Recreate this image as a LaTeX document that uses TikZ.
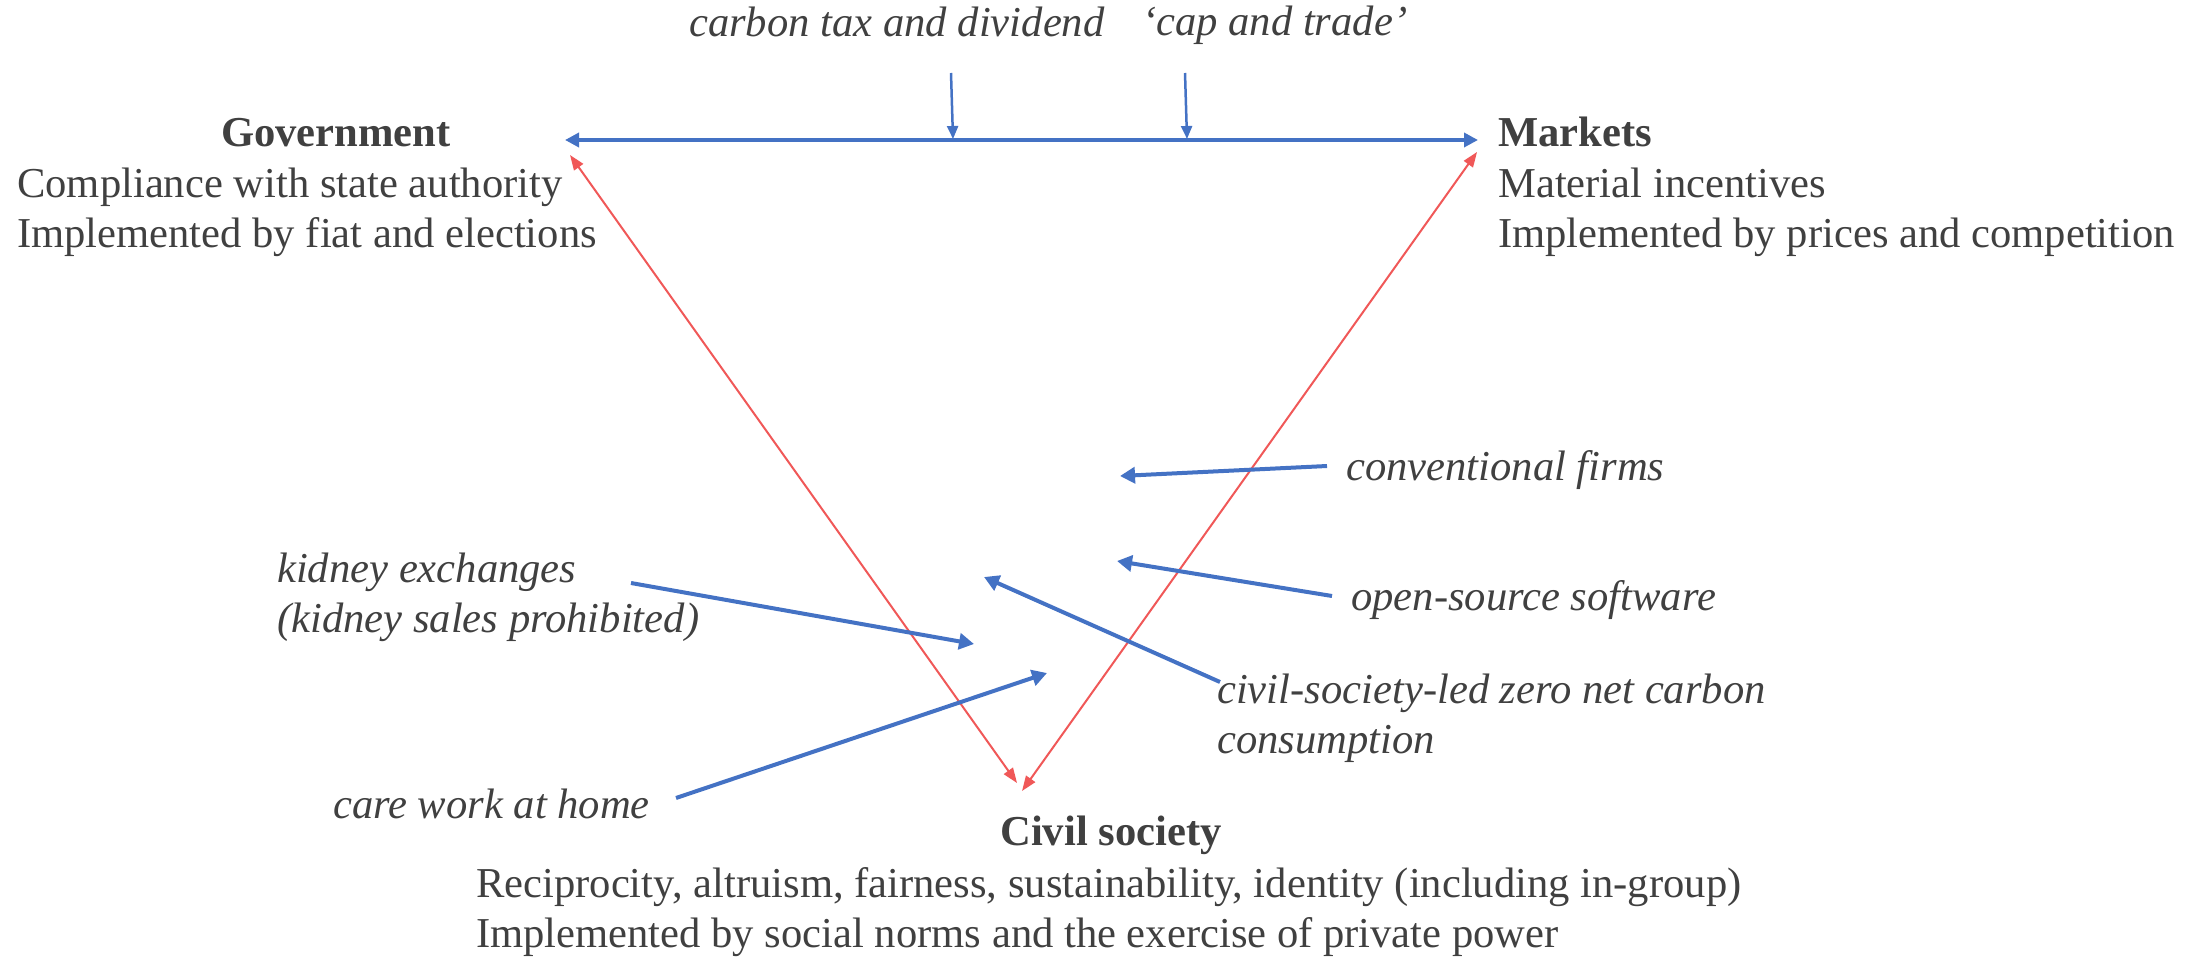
\documentclass[tikz,border=0pt]{standalone}
\usepackage{fontspec}
\setmainfont{Liberation Serif}
\usetikzlibrary{arrows.meta}
\definecolor{txtgray}{RGB}{64,64,64}
\definecolor{linkblue}{RGB}{68,114,196}
\definecolor{linkred}{RGB}{240,88,88}

\begin{document}
\begin{tikzpicture}[x=1pt,y=-1pt]
    \tikzstyle{every node}=[inner sep=0pt,text=txtgray,font=\fontsize{42.6pt}{50pt}\selectfont]
    \tikzstyle{pole}=[font=\fontsize{42.6pt}{50pt}\selectfont\bfseries]
    \tikzstyle{desc}=[align=left,anchor=base west]
    \tikzstyle{example}=[font=\fontsize{42.6pt}{50pt}\selectfont\itshape,align=left,anchor=base west]
    \tikzstyle{tradelink}=[linkblue,line width=4pt,{Triangle[length=14pt,width=14pt]}-{Triangle[length=14pt,width=14pt]}]
    \tikzstyle{clashlink}=[linkred,line width=2pt,{Triangle[length=15pt,width=11pt]}-{Triangle[length=15pt,width=11pt]}]
    \tikzstyle{policylink}=[linkblue,line width=2.5pt,-{Triangle[length=13pt,width=11pt]}]
    \tikzstyle{caselink}=[linkblue,line width=4pt,-{Triangle[length=15pt,width=16pt]}]
    \useasboundingbox (0,0) rectangle (2205,960);

    % the three poles (base of a block = its last line)
    \node[pole,anchor=base] (gov) at (336,147) {Government};
    \node[desc] (govtext) at (17,247) {Compliance with state authority\\Implemented by fiat and elections};
    \node[pole,anchor=base west] (mkt) at (1498,147) {Markets};
    \node[desc] (mkttext) at (1498,247) {Material incentives\\Implemented by prices and competition};
    \node[pole,anchor=base] (civ) at (1111,845) {Civil society};
    \node[desc] (civtext) at (476,947) {Reciprocity, altruism, fairness, sustainability, identity (including in-group)\\Implemented by social norms and the exercise of private power};

    % examples
    \node[example] (tax) at (689,37) {carbon tax and dividend};
    \node[example] (cap) at (1142,36) {`cap and trade'};
    \node[example] (firms) at (1346,480) {conventional firms};
    \node[example] (oss) at (1351,610) {open-source software};
    \node[example] (zero) at (1217,753) {civil-society-led zero net carbon\\consumption};
    \node[example] (kidney) at (277,632) {kidney exchanges\\(kidney sales prohibited)};
    \node[example] (care) at (333,818) {care work at home};

    \coordinate (govend) at (565,140);
    \coordinate (mktend) at (1478,140);
    \coordinate (govred) at (570,155);
    \coordinate (mktred) at (1477,152);
    \coordinate (civredl) at (1017,783);
    \coordinate (civredr) at (1022,791);
    \coordinate (taxtop) at (951,73);
    \coordinate (taxfoot) at (953,139);
    \coordinate (captop) at (1185,73);
    \coordinate (capfoot) at (1187,139);
    \coordinate (firmsfrom) at (1327,466);
    \coordinate (firmsto) at (1120,476);
    \coordinate (ossfrom) at (1332,596);
    \coordinate (ossto) at (1117,561);
    \coordinate (zerofrom) at (1220,682);
    \coordinate (zeroto) at (984,577);
    \coordinate (kidneyfrom) at (631,583);
    \coordinate (kidneyto) at (974,644);
    \coordinate (carefrom) at (676,798);
    \coordinate (careto) at (1047,673);

    \draw[tradelink] (govend) -- (mktend);
    \draw[clashlink] (govred) -- (civredl);
    \draw[clashlink] (mktred) -- (civredr);
    \draw[policylink] (taxtop) -- (taxfoot);
    \draw[policylink] (captop) -- (capfoot);
    \draw[caselink] (firmsfrom) -- (firmsto);
    \draw[caselink] (ossfrom) -- (ossto);
    \draw[caselink] (zerofrom) -- (zeroto);
    \draw[caselink] (kidneyfrom) -- (kidneyto);
    \draw[caselink] (carefrom) -- (careto);
\end{tikzpicture}
\end{document}
